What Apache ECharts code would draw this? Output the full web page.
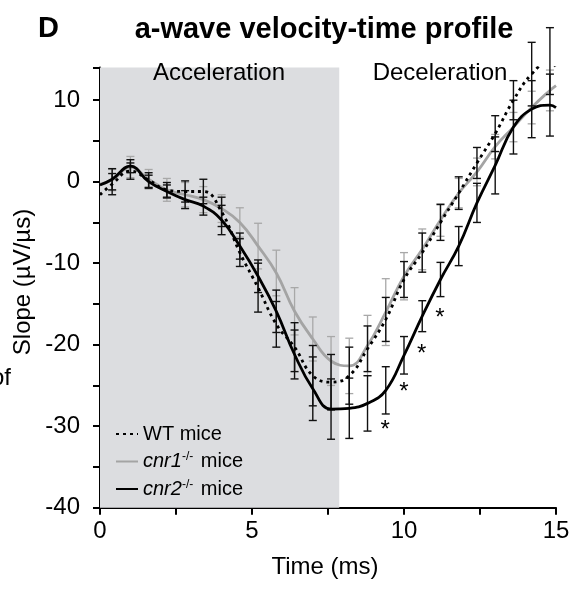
<!DOCTYPE html>
<html>
<head>
<meta charset="utf-8">
<script src="https://cdn.jsdelivr.net/npm/echarts@6/dist/echarts.min.js"></script>
<style>html,body{margin:0;padding:0;background:#fff}#c{width:576px;height:589px}</style>
</head>
<body>
<div id="c"></div>
<script>
// Time points of the traces (ms)
const tLine = [0, 0.4, 1.0, 1.6, 2.2, 2.8, 3.4, 4.0, 4.6, 5.2, 5.8, 6.4, 7.0, 7.6, 8.2, 8.8, 9.4, 10.0, 10.6, 11.2, 11.8, 12.4, 13.0, 13.6, 14.2, 14.8, 15.0];
// Slope values (µV/µs)
const wtVals   = [-1.6, -0.3, 1.3, 0.2, -1.0, -1.2, -1.2, -3.7, -8.7, -13.0, -17.5, -20.3, -23.8, -24.6, -23.8, -20.5, -16.9, -12.0, -8.7, -5.0, -1.4, 2.3, 5.9, 10.0, 13.2, 14.8, 14.0];
const cnr1Vals = [-0.3, 0.2, 1.8, 0.3, -1.0, -1.6, -2.2, -3.3, -5.0, -7.9, -11.2, -15.9, -19.3, -22.0, -22.6, -20.1, -16.0, -11.6, -8.3, -4.7, -1.4, 1.2, 4.3, 6.7, 9.1, 11.2, 11.8];
const cnr2Vals = [-0.4, 0.3, 1.9, 0.0, -1.2, -2.2, -3.0, -4.7, -7.9, -11.6, -15.9, -21.2, -25.4, -27.9, -27.8, -27.2, -25.6, -21.3, -16.5, -12.0, -7.9, -2.6, 2.0, 6.7, 8.9, 9.4, 9.1];
// Error bar time points (ms) = tLine[1..25]
const tBar = [0.4, 1.0, 1.6, 2.2, 2.8, 3.4, 4.0, 4.6, 5.2, 5.8, 6.4, 7.0, 7.6, 8.2, 8.8, 9.4, 10.0, 10.6, 11.2, 11.8, 12.4, 13.0, 13.6, 14.2, 14.8];
const wtErr   = [1.3, 1.0, 0.9, 0.9, 1.3, 1.5, 1.8, 1.7, 3.0, 2.8, 3.0, 3.7, 3.4, 3.5, 2.8, 2.7, 2.2, 2.4, 2.2, 2.0, 1.9, 2.2, 2.4, 3.9, 4.1];
const cnr1Err = [1.3, 1.3, 1.2, 1.4, 1.5, 1.6, 1.7, 1.8, 2.8, 2.8, 2.9, 2.7, 3.0, 3.4, 3.7, 4.1, 2.9, 2.5, 2.0, 1.8, 1.7, 1.5, 1.8, 2.0, 2.5];
const cnr2Err = [1.3, 0.8, 0.8, 0.8, 1.1, 1.1, 1.8, 1.6, 2.0, 2.6, 3.0, 3.9, 3.7, 3.7, 3.4, 2.9, 2.3, 1.9, 2.1, 2.4, 2.4, 3.5, 3.3, 3.5, 3.8];
// Significance asterisks
const starT = [9.38, 10.0, 10.58, 11.18];
const starV = [-29.7, -25.0, -20.3, -15.9];
// Acceleration phase end (ms)
const accelEnd = 7.87;
const xTicks = [0, 5, 10, 15];
const yTicks = [-40, -30, -20, -10, 0, 10];

const FONT = 'Liberation Sans, Arial, sans-serif';
const chart = echarts.init(document.getElementById('c'), null, {renderer: 'canvas'});

function lineData(vals) { return tLine.map((t, i) => [t, vals[i]]); }
function barData(vals, errs) { return tBar.map((t, i) => [t, vals[i + 1], errs[i]]); }
function errRender(color, cap, lw) {
  return function (params, api) {
    const x = api.value(0), y = api.value(1), e = api.value(2);
    const top = api.coord([x, y + e]);
    const bot = api.coord([x, y - e]);
    const st = {stroke: color, lineWidth: lw};
    return {type: 'group', children: [
      {type: 'line', shape: {x1: top[0], y1: top[1], x2: bot[0], y2: bot[1]}, style: st},
      {type: 'line', shape: {x1: top[0] - cap, y1: top[1], x2: top[0] + cap, y2: top[1]}, style: st},
      {type: 'line', shape: {x1: bot[0] - cap, y1: bot[1], x2: bot[0] + cap, y2: bot[1]}, style: st}
    ]};
  };
}

const option = {
  animation: false,
  backgroundColor: '#fff',
  grid: {left: 100, right: 20, top: 67.6, bottom: 81.3, containLabel: false},
  xAxis: {
    type: 'value', min: 0, max: 15, interval: 2.5,
    axisLine: {onZero: false, lineStyle: {color: '#000', width: 2}},
    axisTick: {length: 7, lineStyle: {color: '#000', width: 2}},
    splitLine: {show: false},
    axisLabel: {
      margin: 12, fontSize: 24, color: '#000', fontFamily: FONT,
      formatter: v => xTicks.indexOf(v) >= 0 ? String(v) : ''
    }
  },
  yAxis: {
    type: 'value', min: -40, max: 14, interval: 5,
    axisLine: {show: true, onZero: false, lineStyle: {color: '#000', width: 2}},
    axisTick: {show: true, length: 7, lineStyle: {color: '#000', width: 2}},
    splitLine: {show: false},
    axisLabel: {
      margin: 20, fontSize: 24, color: '#000', fontFamily: FONT,
      formatter: v => yTicks.indexOf(v) >= 0 ? String(v) : ''
    }
  },
  legend: {
    orient: 'vertical', left: 110, top: 419, itemGap: 7,
    itemWidth: 22, itemHeight: 14,
    itemStyle: {opacity: 0},
    data: ['WT', 'cnr1', 'cnr2'],
    textStyle: {
      fontSize: 20, color: '#000', fontFamily: FONT,
      rich: {
        i: {fontSize: 20, fontStyle: 'italic', color: '#000', fontFamily: FONT},
        s: {fontSize: 12, color: '#000', fontFamily: FONT, padding: [0, 2, 9, 0]},
        n: {fontSize: 20, color: '#000', fontFamily: FONT}
      }
    },
    formatter: function (name) {
      if (name === 'WT') return '{n|WT mice}';
      return '{i|' + name + '}{s|-/-}{n| mice}';
    }
  },
  graphic: [
    {type: 'text', left: 38, top: 14, style: {text: 'D', font: 'bold 29px ' + FONT, fill: '#000'}},
    {type: 'text', x: 324, y: 30, style: {text: 'a-wave velocity-time profile', font: 'bold 29px ' + FONT, fill: '#000', textAlign: 'center', textVerticalAlign: 'middle'}},
    {type: 'text', x: 219, y: 73, z: 10, style: {text: 'Acceleration', font: '24px ' + FONT, fill: '#000', textAlign: 'center', textVerticalAlign: 'middle'}},
    {type: 'text', x: 440, y: 73, z: 10, style: {text: 'Deceleration', font: '24px ' + FONT, fill: '#000', textAlign: 'center', textVerticalAlign: 'middle'}},
    {type: 'text', x: 325, y: 567, style: {text: 'Time (ms)', font: '24px ' + FONT, fill: '#000', textAlign: 'center', textVerticalAlign: 'middle'}},
    {type: 'text', x: 23, y: 282, rotation: Math.PI / 2, style: {text: 'Slope (µV/µs)', font: '24px ' + FONT, fill: '#000', textAlign: 'center', textVerticalAlign: 'middle'}},
    {type: 'text', x: -9, y: 378, style: {text: 'of', font: '24px ' + FONT, fill: '#000', textVerticalAlign: 'middle'}}
  ],
  series: [
    {
      name: 'shade', type: 'line', data: [], z: 1, silent: true,
      markArea: {silent: true, itemStyle: {color: '#dcdde0'}, data: [[{xAxis: 0}, {xAxis: accelEnd}]]}
    },
    {
      name: 'cnr1bars', type: 'custom', z: 2, silent: true,
      renderItem: errRender('#a8a8a8', 4, 1.3),
      encode: {x: 0, y: 1},
      data: barData(cnr1Vals, cnr1Err)
    },
    {
      name: 'cnr1', type: 'line', z: 3, smooth: 0.45, symbol: 'none',
      lineStyle: {color: '#a4a4a4', width: 2.8}, itemStyle: {color: '#a4a4a4'},
      data: lineData(cnr1Vals)
    },
    {
      name: 'wtbars', type: 'custom', z: 4, silent: true,
      renderItem: errRender('#111', 4, 1.4),
      encode: {x: 0, y: 1},
      data: barData(wtVals, wtErr)
    },
    {
      name: 'cnr2bars', type: 'custom', z: 4, silent: true,
      renderItem: errRender('#111', 4, 1.4),
      encode: {x: 0, y: 1},
      data: barData(cnr2Vals, cnr2Err)
    },
    {
      name: 'WT', type: 'line', z: 5, smooth: 0.45, symbol: 'none',
      lineStyle: {color: '#000', width: 2.8, type: [3, 4]}, itemStyle: {color: '#000'},
      data: lineData(wtVals)
    },
    {
      name: 'cnr2', type: 'line', z: 5, smooth: 0.45, symbol: 'none',
      lineStyle: {color: '#000', width: 2.8}, itemStyle: {color: '#000'},
      data: lineData(cnr2Vals)
    },
    {
      name: 'stars', type: 'scatter', z: 6, silent: true, symbolSize: 1,
      itemStyle: {opacity: 0},
      label: {show: true, position: 'inside', formatter: '*', fontSize: 24, color: '#000', fontFamily: FONT, offset: [0, 7], opacity: 1},
      data: starT.map((t, i) => [t, starV[i]])
    }
  ]
};
chart.setOption(option);
</script>
</body>
</html>
